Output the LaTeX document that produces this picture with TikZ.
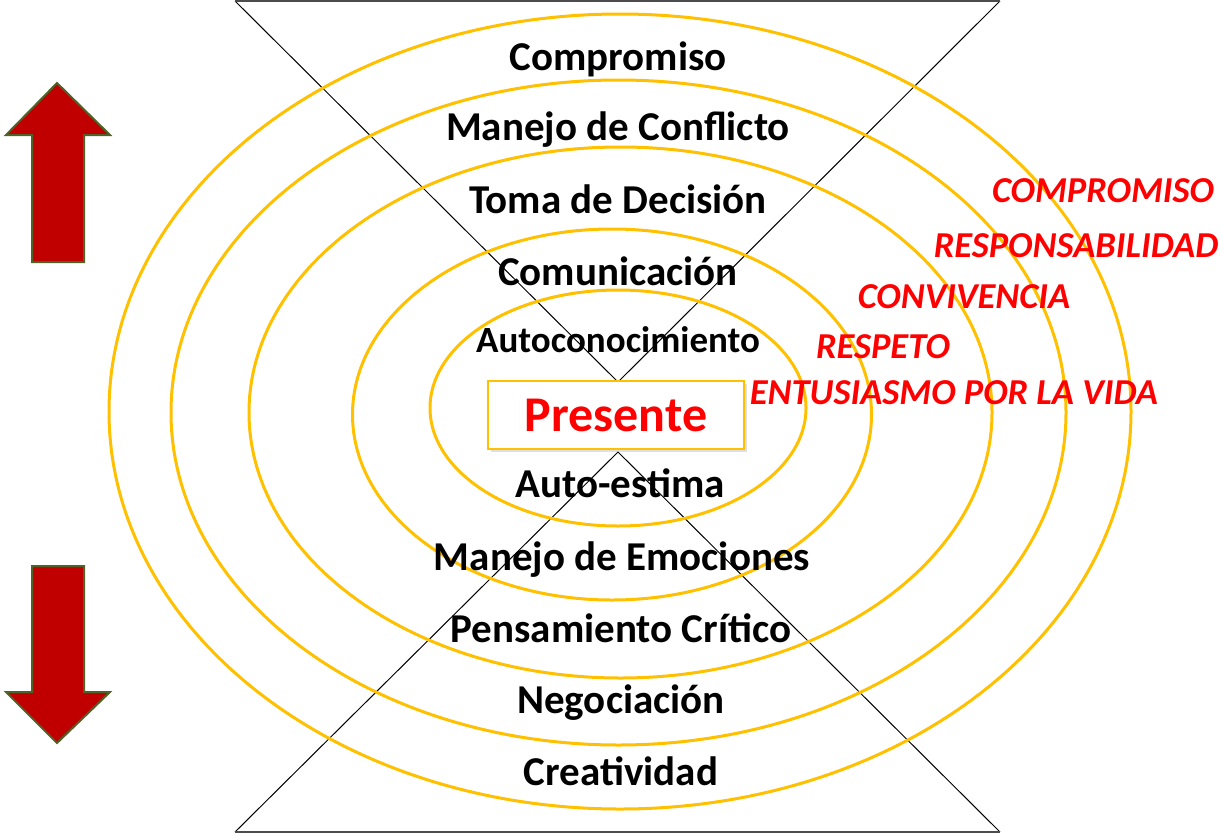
\documentclass[tikz,border=0pt]{standalone}
\usepackage{fontspec}
\setmainfont{Carlito}
\usepackage{xcolor}
\usepackage{tikz}
\usetikzlibrary{shadows}
\definecolor{ringyellow}{HTML}{FFC000}
\definecolor{arrowred}{HTML}{C00000}
\definecolor{arrowedge}{HTML}{4F6228}
\tikzset{
  zone/.style={draw=ringyellow,line width=3},
  skill/.style={anchor=base,inner sep=0pt,font=\fontsize{41}{45}\selectfont\bfseries},
  value/.style={anchor=base,inner sep=0pt,text=red,font=\fontsize{36.5}{40}\selectfont\bfseries\itshape},
  present/.style={inner sep=0pt,font=\fontsize{50}{54}\selectfont\bfseries},
  bigarrow/.style={fill=arrowred,draw=arrowedge,line width=2}
}
\begin{document}
\begin{tikzpicture}[x=1pt,y=-1pt]
		\useasboundingbox (0,0) rectangle (1222,835);
		\coordinate (tl) at (235,1);
		\coordinate (tr) at (1000,1);
		\coordinate (bl) at (235,832);
		\coordinate (br) at (1000,832);
		\coordinate (topapex) at (618,382);
		\coordinate (botapex) at (618,452);
		\draw[line width=1] (tl) -- (topapex) -- (tr);
		\draw[line width=1] (bl) -- (botapex) -- (br);
		\draw[line width=1.5,black!70] (tl) -- (tr);
		\draw[line width=1.5,black!70] (bl) -- (br);
		\foreach \cx/\cy/\rx/\ry in {618/408/188/118,612/414.5/259.5/185.5,620.5/412.5/371.5/265.5,618.5/412.5/447.5/332.5,620/411.5/511/397.5}
			\draw[zone] (\cx,\cy) ellipse [x radius=\rx, y radius=\ry];
		\node[draw=ringyellow,line width=2,fill=white,minimum width=256,minimum height=68,
			drop shadow={opacity=.25,shadow xshift=3pt,shadow yshift=-3pt}] (box) at (616,415) {};
		\node[present,text=red] (presente) at (box.center) {Presente};
		\node[skill] (compromiso) at (618,70) {Compromiso};
		\node[skill] (conflicto) at (618,140) {Manejo de Conflicto};
		\node[skill] (decision) at (618,213) {Toma de Decisión};
		\node[skill] (comunicacion) at (618,285) {Comunicación};
		\node[skill,font=\fontsize{37}{41}\selectfont\bfseries] (autoconoc) at (618,352) {Autoconocimiento};
		\node[skill] (autoestima) at (620,497) {Auto-estima};
		\node[skill] (emociones) at (622,570) {Manejo de Emociones};
		\node[skill] (critico) at (621,642) {Pensamiento Crítico};
		\node[skill] (negociacion) at (621,713) {Negociación};
		\node[skill] (creatividad) at (621,785) {Creatividad};
		\node[value] (vcompromiso) at (1103,202) {COMPROMISO};
		\node[value] (vresponsab) at (1076,257) {RESPONSABILIDAD};
		\node[value] (vconvivencia) at (964,308) {CONVIVENCIA};
		\node[value] (vrespeto) at (883,358) {RESPETO};
		\node[value] (ventusiasmo) at (954,404) {ENTUSIASMO POR LA VIDA};
		\filldraw[bigarrow] (57,83) -- (110,135) -- (84,135) -- (84,262) -- (32,262) -- (32,135) -- (6,135) -- cycle;
		\filldraw[bigarrow] (57,743) -- (110,692) -- (84,692) -- (84,566) -- (32,566) -- (32,692) -- (6,692) -- cycle;
	\end{tikzpicture}
\end{document}
